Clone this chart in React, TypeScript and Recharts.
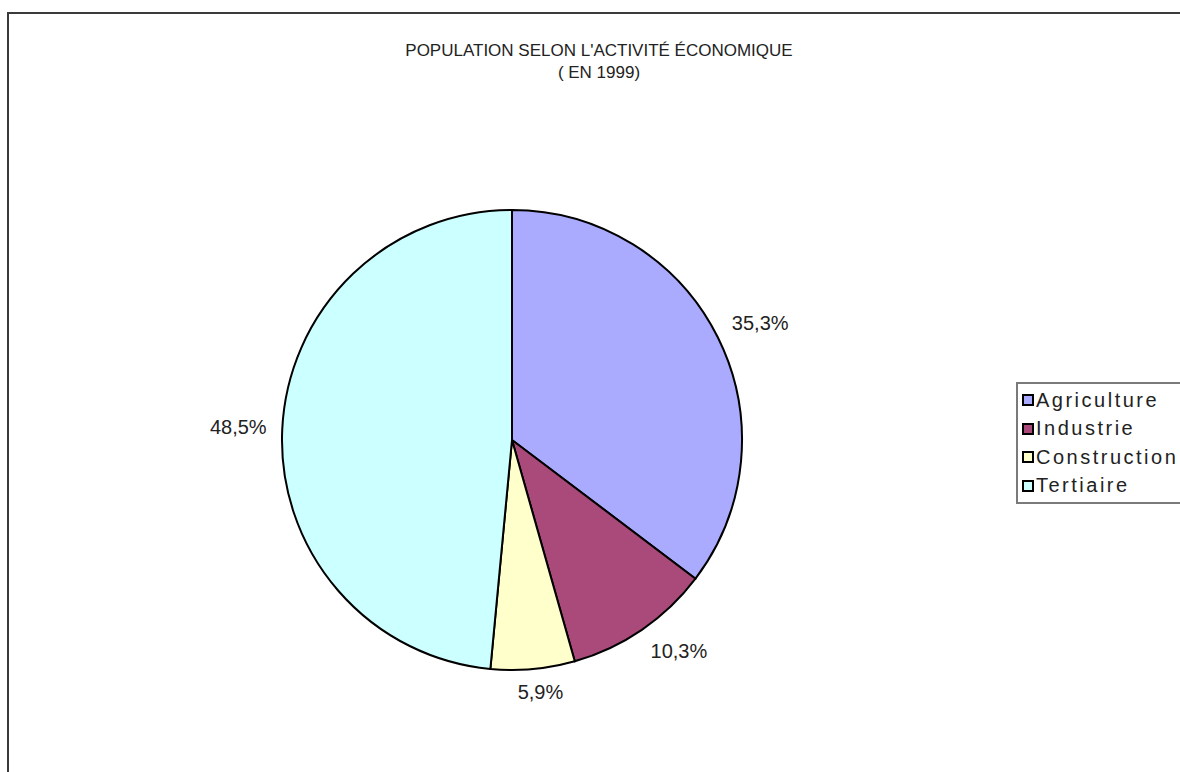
import { PieChart, Pie, Cell, Legend } from 'recharts'

const categories = ['Agriculture', 'Industrie', 'Construction', 'Tertiaire']
const shares = [35.3, 10.3, 5.9, 48.5]
const colors = ['#aaaaff', '#aa4a7a', '#ffffcc', '#ccffff']

const data = categories.map((name, i) => ({ name, value: shares[i] }))

const RADIAN = Math.PI / 180
const FONT = '"Liberation Sans", Arial, sans-serif'

function fmt(v: number) {
  return v.toFixed(1).replace('.', ',') + '%'
}

const clamp = (v: number) => Math.max(-1, Math.min(1, v))

// Excel-style: the corner of the label box facing the centre sits on a ring just outside the pie
function SliceLabel(props: any) {
  const { cx, cy, midAngle, outerRadius, value } = props
  const txt = fmt(value)
  const cos = Math.cos(-midAngle * RADIAN)
  const sin = Math.sin(-midAngle * RADIAN)
  const hw = txt.length * 5.6
  const hh = 7.5
  const r = outerRadius + 16
  const x = cx + r * cos + hw * clamp(cos * 3)
  const y = cy + r * sin + hh * clamp(sin * 3)
  return (
    <text
      x={x}
      y={y}
      textAnchor="middle"
      dominantBaseline="central"
      fill="#222"
      fontSize={20}
      fontFamily={FONT}
    >
      {txt}
    </text>
  )
}

function LegendBox() {
  return (
    <div
      style={{
        border: '2px solid #7a7a7a',
        borderRight: 'none',
        width: 170,
        padding: '2px 0 2px 4px',
        background: '#fff',
        fontFamily: FONT,
        fontSize: 20,
        letterSpacing: 2.5,
        color: '#222',
      }}
    >
      {categories.map((c, i) => (
        <div key={c} style={{ display: 'flex', alignItems: 'center', height: 28.5 }}>
          <span
            style={{
              width: 8,
              height: 8,
              border: '2px solid #000',
              background: colors[i],
              marginRight: 2,
              flexShrink: 0,
            }}
          />
          <span>{c}</span>
        </div>
      ))}
    </div>
  )
}

export default function App() {
  return (
    <div style={{ position: 'relative', width: 1180, height: 772, overflow: 'hidden', background: '#fff' }}>
      <style>{'body{margin:0}'}</style>
      <div
        style={{
          position: 'absolute',
          left: 7,
          top: 12,
          width: 1200,
          height: 800,
          border: '2px solid #3a3a3a',
        }}
      />
      <div
        style={{
          position: 'absolute',
          left: 0,
          top: 40,
          width: 1198,
          textAlign: 'center',
          fontFamily: FONT,
          fontSize: 17,
          lineHeight: '22px',
          color: '#222',
        }}
      >
        POPULATION SELON L'ACTIVITÉ ÉCONOMIQUE
        <br />( EN 1999)
      </div>
      <div style={{ position: 'absolute', left: 0, top: 0 }}>
        <PieChart width={1180} height={772} margin={{ top: 0, right: 0, bottom: 0, left: 0 }}>
          <Pie
            data={data}
            dataKey="value"
            nameKey="name"
            cx={512}
            cy={440}
            outerRadius={230}
            startAngle={90}
            endAngle={-270}
            stroke="#000"
            strokeWidth={2}
            label={SliceLabel}
            labelLine={false}
            isAnimationActive={false}
          >
            {data.map((d, i) => (
              <Cell key={d.name} fill={colors[i]} />
            ))}
          </Pie>
          <Legend
            content={<LegendBox />}
            wrapperStyle={{ position: 'absolute', left: 1016, top: 382, width: 'auto' }}
          />
        </PieChart>
      </div>
    </div>
  )
}
